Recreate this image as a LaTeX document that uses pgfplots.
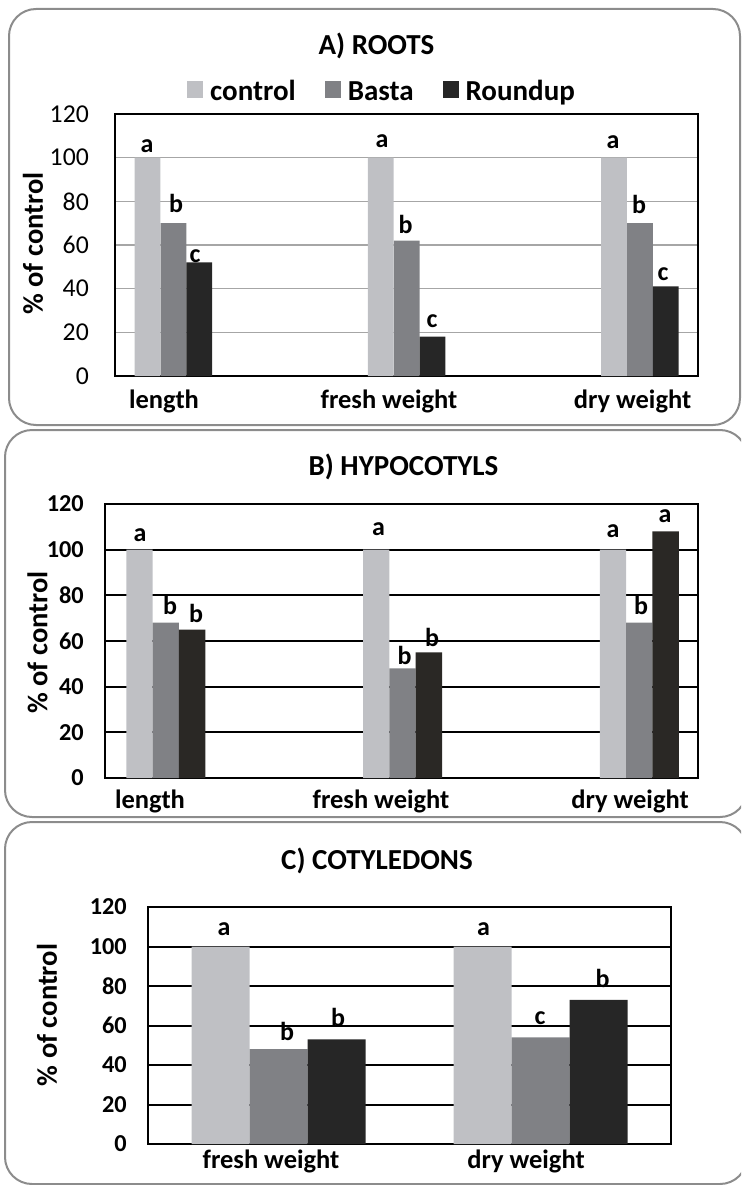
\documentclass[border=0pt]{standalone}
\usepackage{fontspec}
\setmainfont{Carlito}
\usepackage{pgfplots}
\pgfplotsset{compat=1.18}
\definecolor{ctrl}{HTML}{BFC0C4}
\definecolor{basta}{HTML}{808185}
\definecolor{rup}{HTML}{262626}
\definecolor{rupB}{HTML}{2A2825}
\definecolor{boxgray}{HTML}{8C8C8C}
\definecolor{gridA}{HTML}{A6A6A6}
\pgfplotsset{
  common/.style={
    scale only axis, anchor=south west, clip=false,
    ymin=0, ymax=120, ytick={0,20,...,120},
    major tick length=0pt,
    /pgf/number format/assume math mode=true,
    ymajorgrids,
  },
}
\tikzset{lab/.style={font=\bfseries\fontsize{26}{30}\selectfont, anchor=base, inner sep=0pt}}
\begin{document}
\begin{tikzpicture}
\useasboundingbox (0pt,0pt) rectangle (741pt,-1185pt);
\clip (0pt,0pt) rectangle (741pt,-1185pt);
\draw[boxgray, line width=2pt, rounded corners=27pt] (9pt,-9pt) rectangle (740pt,-425pt);
\draw[boxgray, line width=2pt, rounded corners=27pt] (5pt,-430pt) rectangle (747pt,-817pt);
\draw[boxgray, line width=2pt, rounded corners=27pt] (5pt,-822pt) rectangle (747pt,-1184pt);

% ---------------- A) ROOTS
\node[font=\bfseries\fontsize{29}{34}\selectfont, anchor=base] at (376.5pt,-55pt) {A) ROOTS};
\node[font=\bfseries\fontsize{28.5}{34}\selectfont, rotate=90] at (33pt,-243.5pt) {\% of control};
\begin{axis}[common,
  at={(115pt,-376pt)}, width=583pt, height=262pt,
  xmin=115, xmax=698,
  xtick={164,389,632.5}, xticklabels={length, fresh weight, dry weight},
  grid style={gridA, line width=1.5pt},
  axis line style={black, line width=1.5pt},
  yticklabel style={font=\fontsize{25.7}{30}\selectfont, inner sep=0pt, xshift=-26pt},
  xticklabel style={font=\bfseries\fontsize{26.5}{30}\selectfont, inner sep=0pt, yshift=-14pt, anchor=north},
  legend style={at={(0.458,1.080)}, anchor=center, draw=none, fill=none,
    font=\bfseries\fontsize{29}{34}\selectfont,
    /tikz/every odd column/.append style={column sep=5pt},
    /tikz/every even column/.append style={column sep=27pt},
    nodes={inner sep=2pt, text height=0.66em, text depth=0.22em}},
  legend columns=3,
  legend image code/.code={\fill[#1] (0pt,0pt) rectangle (16pt,17pt);},
]
\addplot[ybar, bar width=25.7pt, bar shift=0pt, fill=ctrl, draw=none] coordinates {(147.5,100) (380.75,100) (614,100)};
\addplot[ybar, bar width=25.7pt, bar shift=0pt, fill=basta, draw=none] coordinates {(173.4,70) (406.65,62) (639.9,70)};
\addplot[ybar, bar width=25.7pt, bar shift=0pt, fill=rup, draw=none] coordinates {(199.3,52) (432.55,18) (665.8,41)};
\legend{control, Basta, Roundup}
\node[lab] at (axis cs:147,102.5) {a};
\node[lab] at (axis cs:176,75) {b};
\node[lab] at (axis cs:195,52.2) {c};
\node[lab] at (axis cs:382,104.8) {a};
\node[lab] at (axis cs:405.5,65.4) {b};
\node[lab] at (axis cs:432,22) {c};
\node[lab] at (axis cs:613,104.3) {a};
\node[lab] at (axis cs:639,74.6) {b};
\node[lab] at (axis cs:663,43.9) {c};
\end{axis}

% ---------------- B) HYPOCOTYLS
\node[font=\bfseries\fontsize{29}{34}\selectfont, anchor=base] at (403.5pt,-475pt) {B) HYPOCOTYLS};
\node[font=\bfseries\fontsize{28.5}{34}\selectfont, rotate=90] at (37.5pt,-642.5pt) {\% of control};
\begin{axis}[common,
  at={(105pt,-778pt)}, width=593pt, height=274pt,
  xmin=105, xmax=698,
  xtick={150,381,630}, xticklabels={length, fresh weight, dry weight},
  grid style={black, line width=2pt},
  axis line style={black, line width=2pt},
  yticklabel style={font=\bfseries\fontsize{24.3}{30}\selectfont, inner sep=0pt, xshift=-21pt},
  xticklabel style={font=\bfseries\fontsize{26.5}{30}\selectfont, inner sep=0pt, yshift=-12pt, anchor=north},
]
\addplot[ybar, bar width=26.3pt, bar shift=0pt, fill=ctrl, draw=none] coordinates {(139.5,100) (376.25,100) (613,100)};
\addplot[ybar, bar width=26.3pt, bar shift=0pt, fill=basta, draw=none] coordinates {(165.8,68) (402.55,48) (639.3,68)};
\addplot[ybar, bar width=26.3pt, bar shift=0pt, fill=rupB, draw=none] coordinates {(192.1,65) (428.85,55) (665.6,108)};
\node[lab] at (axis cs:140,103.4) {a};
\node[lab] at (axis cs:170,71.4) {b};
\node[lab] at (axis cs:196,68.3) {b};
\node[lab] at (axis cs:378.5,106.4) {a};
\node[lab] at (axis cs:404.5,49.5) {b};
\node[lab] at (axis cs:432,57.4) {b};
\node[lab] at (axis cs:613,105.5) {a};
\node[lab] at (axis cs:641,71.4) {b};
\node[lab] at (axis cs:665,112.1) {a};
\end{axis}

% ---------------- C) COTYLEDONS
\node[font=\bfseries\fontsize{29}{34}\selectfont, anchor=base] at (377pt,-869pt) {C) COTYLEDONS};
\node[font=\bfseries\fontsize{28.5}{34}\selectfont, rotate=90] at (47pt,-1015pt) {\% of control};
\begin{axis}[common,
  at={(148pt,-1144pt)}, width=523pt, height=237pt,
  xmin=148, xmax=671,
  xtick={271,526}, xticklabels={fresh weight, dry weight},
  grid style={black, line width=2pt},
  axis line style={black, line width=2pt},
  yticklabel style={font=\bfseries\fontsize{24.3}{30}\selectfont, inner sep=0pt, xshift=-21pt},
  xticklabel style={font=\bfseries\fontsize{26.5}{30}\selectfont, inner sep=0pt, yshift=-6pt, anchor=north},
]
\addplot[ybar, bar width=58pt, bar shift=0pt, fill=ctrl, draw=none] coordinates {(220.5,100) (482.5,100)};
\addplot[ybar, bar width=58pt, bar shift=0pt, fill=basta, draw=none] coordinates {(278.5,48) (540.5,54)};
\addplot[ybar, bar width=58pt, bar shift=0pt, fill=rup, draw=none] coordinates {(336.5,53) (598.5,73)};
\node[lab] at (axis cs:224,105.8) {a};
\node[lab] at (axis cs:287,52.2) {b};
\node[lab] at (axis cs:338,59.7) {b};
\node[lab] at (axis cs:483.5,105.8) {a};
\node[lab] at (axis cs:540,60.3) {c};
\node[lab] at (axis cs:602.5,79.5) {b};
\end{axis}
\end{tikzpicture}
\end{document}
